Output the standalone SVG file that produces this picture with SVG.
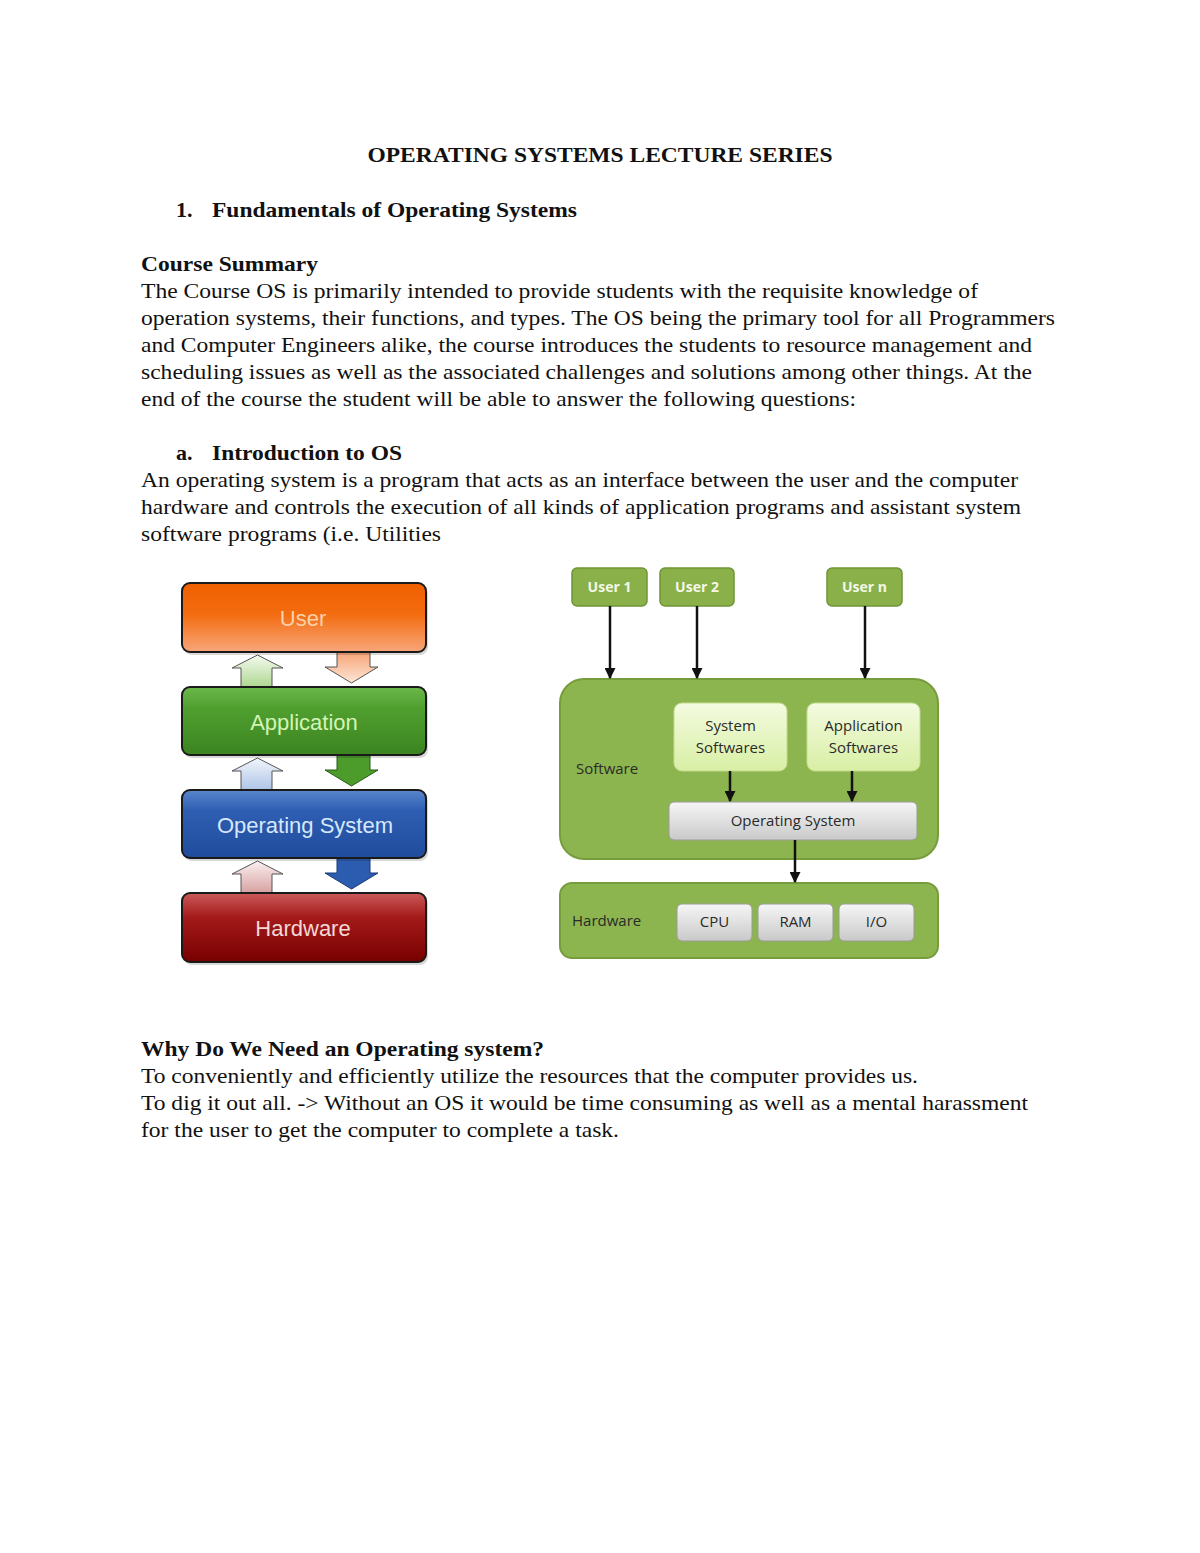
<svg xmlns="http://www.w3.org/2000/svg" width="1200" height="1553" viewBox="0 0 1200 1553">
<defs>
<style>
.t{font-family:"Liberation Serif","Times New Roman",serif;font-size:22px;fill:#111}
.b{font-weight:bold}
.lb{font-family:"Liberation Sans",Arial,sans-serif;font-size:22px;text-anchor:middle}
.rb{font-family:"Open Sans","Noto Sans",sans-serif;font-size:15px;fill:#2a2a2a;text-anchor:middle}
.ub{font-family:"Open Sans","Noto Sans",sans-serif;font-size:14px;font-weight:bold;fill:#f4f8e8;text-anchor:middle}
.stk{stroke:#1a1a1a;stroke-width:2}
.con{stroke:#111;stroke-width:2.5;fill:none;marker-end:url(#ah)}
.ubox{fill:#8ab04a;stroke:#6f9436;stroke-width:1.5}
.gbox{fill:url(#gGray);stroke:#9a9a9a;stroke-width:1}
</style>
<marker id="ah" viewBox="0 0 10 10" refX="9" refY="5" markerWidth="4.4" markerHeight="4.4" orient="auto"><path d="M0,0 L10,5 L0,10 Z" fill="#111"/></marker>
<linearGradient id="gUser" x1="0" y1="0" x2="0" y2="1"><stop offset="0" stop-color="#f06000"/><stop offset="0.45" stop-color="#f36c10"/><stop offset="1" stop-color="#f8a67a"/></linearGradient>
<linearGradient id="gApp" x1="0" y1="0" x2="0" y2="1"><stop offset="0" stop-color="#6cb84a"/><stop offset="0.3" stop-color="#50a030"/><stop offset="1" stop-color="#3b8420"/></linearGradient>
<linearGradient id="gOS" x1="0" y1="0" x2="0" y2="1"><stop offset="0" stop-color="#5a86cc"/><stop offset="0.3" stop-color="#2e5eb2"/><stop offset="1" stop-color="#204c9c"/></linearGradient>
<linearGradient id="gHW" x1="0" y1="0" x2="0" y2="1"><stop offset="0" stop-color="#cc5a5a"/><stop offset="0.35" stop-color="#a41a1a"/><stop offset="1" stop-color="#780000"/></linearGradient>
<linearGradient id="dUser" x1="0" y1="0" x2="0" y2="1"><stop offset="0" stop-color="#f6a070"/><stop offset="1" stop-color="#fde6d6"/></linearGradient>
<linearGradient id="uApp" x1="0" y1="1" x2="0" y2="0"><stop offset="0" stop-color="#a8d488"/><stop offset="1" stop-color="#f4faf0"/></linearGradient>
<linearGradient id="uOS" x1="0" y1="1" x2="0" y2="0"><stop offset="0" stop-color="#a8bfe4"/><stop offset="1" stop-color="#f2f6fc"/></linearGradient>
<linearGradient id="uHW" x1="0" y1="1" x2="0" y2="0"><stop offset="0" stop-color="#d49a9a"/><stop offset="1" stop-color="#fbf0f0"/></linearGradient>
<linearGradient id="gLight" x1="0" y1="0" x2="0" y2="1"><stop offset="0" stop-color="#f4fbe0"/><stop offset="1" stop-color="#d8efa4"/></linearGradient>
<linearGradient id="gGray" x1="0" y1="0" x2="0" y2="1"><stop offset="0" stop-color="#f6f6f6"/><stop offset="1" stop-color="#c9c9c9"/></linearGradient>
</defs>
<rect width="1200" height="1553" fill="#ffffff"/>

<g id="document-text">
<text class="t b" x="600" y="162" text-anchor="middle" textLength="465" lengthAdjust="spacingAndGlyphs">OPERATING SYSTEMS LECTURE SERIES</text>
<text class="t b" x="176" y="217">1.</text>
<text class="t b" x="212" y="217" textLength="365" lengthAdjust="spacingAndGlyphs">Fundamentals of Operating Systems</text>
<text class="t b" x="141" y="271" textLength="177" lengthAdjust="spacingAndGlyphs">Course Summary</text>
<text class="t" x="141" y="298" textLength="837" lengthAdjust="spacingAndGlyphs">The Course OS is primarily intended to provide students with the requisite knowledge of</text>
<text class="t" x="141" y="325" textLength="914" lengthAdjust="spacingAndGlyphs">operation systems, their functions, and types. The OS being the primary tool for all Programmers</text>
<text class="t" x="141" y="352" textLength="891" lengthAdjust="spacingAndGlyphs">and Computer Engineers alike, the course introduces the students to resource management and</text>
<text class="t" x="141" y="379" textLength="891" lengthAdjust="spacingAndGlyphs">scheduling issues as well as the associated challenges and solutions among other things. At the</text>
<text class="t" x="141" y="406" textLength="715" lengthAdjust="spacingAndGlyphs">end of the course the student will be able to answer the following questions:</text>
<text class="t b" x="176" y="460">a.</text>
<text class="t b" x="212" y="460" textLength="190" lengthAdjust="spacingAndGlyphs">Introduction to OS</text>
<text class="t" x="141" y="487" textLength="877" lengthAdjust="spacingAndGlyphs">An operating system is a program that acts as an interface between the user and the computer</text>
<text class="t" x="141" y="514" textLength="880" lengthAdjust="spacingAndGlyphs">hardware and controls the execution of all kinds of application programs and assistant system</text>
<text class="t" x="141" y="541" textLength="300" lengthAdjust="spacingAndGlyphs">software programs (i.e. Utilities</text>
<text class="t b" x="141" y="1056" textLength="403" lengthAdjust="spacingAndGlyphs">Why Do We Need an Operating system?</text>
<text class="t" x="141" y="1083" textLength="777" lengthAdjust="spacingAndGlyphs">To conveniently and efficiently utilize the resources that the computer provides us.</text>
<text class="t" x="141" y="1110" textLength="887" lengthAdjust="spacingAndGlyphs">To dig it out all. -&gt; Without an OS it would be time consuming as well as a mental harassment</text>
<text class="t" x="141" y="1137" textLength="478" lengthAdjust="spacingAndGlyphs">for the user to get the computer to complete a task.</text>
</g>

<!-- Left layered diagram -->
<g id="left-connectors">
<polygon points="241,690 241,668 232,668 257.5,655 283,668 272,668 272,690" fill="url(#uApp)" stroke="#555" stroke-width="1"/>
<polygon points="337,650 337,667 325,667 351.5,683 378,667 370,667 370,650" fill="url(#dUser)" stroke="#555" stroke-width="1"/>
<polygon points="241,793 241,771 232,771 257.5,758 283,771 272,771 272,793" fill="url(#uOS)" stroke="#555" stroke-width="1"/>
<polygon points="337,753 337,770 325,770 351.5,786 378,770 370,770 370,753" fill="#4c9c2c" stroke="#2a5a18" stroke-width="1"/>
<polygon points="241,896 241,874 232,874 257.5,861 283,874 272,874 272,896" fill="url(#uHW)" stroke="#555" stroke-width="1"/>
<polygon points="337,856 337,873 325,873 351.5,889 378,873 370,873 370,856" fill="#2c5cb0" stroke="#1a3a78" stroke-width="1"/>
</g>
<g id="node-user">
<rect x="184" y="586" width="244" height="69" rx="8" fill="#000" opacity="0.15"/>
<rect x="182" y="583" width="244" height="69" rx="8" fill="url(#gUser)" class="stk"/>
<text class="lb" x="303" y="626" fill="#fbd0a8">User</text>
</g>
<g id="node-application">
<rect x="184" y="690" width="244" height="68" rx="8" fill="#000" opacity="0.15"/>
<rect x="182" y="687" width="244" height="68" rx="8" fill="url(#gApp)" class="stk"/>
<text class="lb" x="304" y="730" fill="#d4f4b4">Application</text>
</g>
<g id="node-operating-system">
<rect x="184" y="793" width="244" height="68" rx="8" fill="#000" opacity="0.15"/>
<rect x="182" y="790" width="244" height="68" rx="8" fill="url(#gOS)" class="stk"/>
<text class="lb" x="305" y="833" fill="#d6e8fc">Operating System</text>
</g>
<g id="node-hardware">
<rect x="184" y="896" width="244" height="69" rx="8" fill="#000" opacity="0.15"/>
<rect x="182" y="893" width="244" height="69" rx="8" fill="url(#gHW)" class="stk"/>
<text class="lb" x="303" y="936" fill="#f4d8d8">Hardware</text>
</g>

<!-- Right architecture diagram -->
<g id="node-software">
<rect x="560" y="679" width="378" height="180" rx="24" fill="#8db54f" stroke="#779c3c" stroke-width="2"/>
<text class="rb" x="576" y="774" style="text-anchor:start" fill="#1e280e">Software</text>
</g>
<g id="node-hardware-box">
<rect x="560" y="883" width="378" height="75" rx="12" fill="#8db54f" stroke="#779c3c" stroke-width="2"/>
<text class="rb" x="572" y="926" style="text-anchor:start" fill="#1e280e">Hardware</text>
</g>
<g id="node-user1"><rect class="ubox" x="572" y="568" width="75" height="38" rx="5"/><text class="ub" x="609.5" y="592">User 1</text></g>
<g id="node-user2"><rect class="ubox" x="660" y="568" width="74" height="38" rx="5"/><text class="ub" x="697" y="592">User 2</text></g>
<g id="node-usern"><rect class="ubox" x="827" y="568" width="75" height="38" rx="5"/><text class="ub" x="864.5" y="592">User n</text></g>
<g id="node-system-softwares">
<rect x="674" y="703" width="113" height="68" rx="8" fill="url(#gLight)" stroke="#c4dc90" stroke-width="1"/>
<text class="rb" x="730.5" y="731">System</text>
<text class="rb" x="730.5" y="753">Softwares</text>
</g>
<g id="node-application-softwares">
<rect x="807" y="703" width="113" height="68" rx="8" fill="url(#gLight)" stroke="#c4dc90" stroke-width="1"/>
<text class="rb" x="863.5" y="731">Application</text>
<text class="rb" x="863.5" y="753">Softwares</text>
</g>
<g id="node-os-bar">
<rect class="gbox" x="669" y="802" width="248" height="38" rx="5"/>
<text class="rb" x="793" y="826">Operating System</text>
</g>
<g id="node-cpu"><rect class="gbox" x="677" y="904" width="75" height="37" rx="5"/><text class="rb" x="714.5" y="927">CPU</text></g>
<g id="node-ram"><rect class="gbox" x="758" y="904" width="75" height="37" rx="5"/><text class="rb" x="795.5" y="927">RAM</text></g>
<g id="node-io"><rect class="gbox" x="839" y="904" width="75" height="37" rx="5"/><text class="rb" x="876.5" y="927">I/O</text></g>

<g id="connectors">
<line class="con" x1="610" y1="606" x2="610" y2="678"/>
<line class="con" x1="697" y1="606" x2="697" y2="678"/>
<line class="con" x1="865" y1="606" x2="865" y2="678"/>
<line class="con" x1="730" y1="771" x2="730" y2="801"/>
<line class="con" x1="852" y1="771" x2="852" y2="801"/>
<line class="con" x1="795" y1="840" x2="795" y2="882"/>
</g>
</svg>
